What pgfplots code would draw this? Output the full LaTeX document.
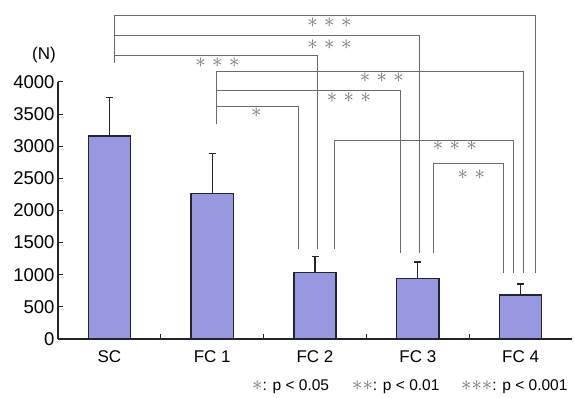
\documentclass[border=0pt]{standalone}
\usepackage{fontspec}
\setmainfont{Liberation Sans}
\usepackage{pgfplots}
\usepackage{pgfplotstable}
\pgfplotsset{compat=1.18}
\definecolor{barfill}{RGB}{152,152,224}
\definecolor{brk}{RGB}{105,105,118}
\definecolor{astc}{RGB}{110,110,122}
\definecolor{axc}{RGB}{35,35,50}

\pgfplotstableread{
x y e
0 3160 600
1 2265 625
2 1030 250
3 940 260
4 685 170
}\datatable

\newcommand{\aster}{{\fontsize{21}{21}\selectfont$\ast$}}
\newcommand{\laster}{{\fontsize{20}{20}\selectfont$\ast$}}
\newcommand{\sthree}{\textcolor{astc}{\aster\hspace{6.5pt}\aster\hspace{6.5pt}\aster}}
\newcommand{\stwo}{\textcolor{astc}{\aster\hspace{6.5pt}\aster}}
\newcommand{\sone}{\textcolor{astc}{\aster}}

\begin{document}
\begin{tikzpicture}[font=\fontsize{17}{20}\selectfont]
\useasboundingbox (-58pt,-59pt) rectangle (517pt,339pt);
\begin{axis}[
  at={(0,0)}, anchor=south west,
  scale only axis, width=514pt, height=257pt,
  xmin=-0.5, xmax=4.5, ymin=0, ymax=4000,
  axis x line=bottom, axis y line=left,
  axis line style={-, axc, line width=1.3pt},
  xtick={0.5,1.5,2.5,3.5}, xticklabels={},
  extra x ticks={0,1,2,3,4},
  extra x tick labels={SC,FC 1,FC 2,FC 3,FC 4},
  extra x tick style={major tick length=0pt, tick label style={yshift=-8pt}},
  ytick={0,500,...,4000},
  tick align=inside, major tick length=5pt,
  tick style={axc, line width=1pt},
  yticklabel style={font=\fontsize{18.5}{20}\selectfont, /pgf/number format/.cd, 1000 sep={}, assume math mode=true},
  ticklabel style={text=black},
  clip=false,
]
\addplot[ybar, bar width=0.41, fill=barfill, draw=axc, line width=1.3pt,
  error bars/.cd, y dir=plus, y explicit,
  error bar style={axc, line width=1.3pt},
  error mark options={rotate=90, mark size=3.5pt, axc, line width=1.3pt}]
  table[x=x, y=y, y error=e]{\datatable};

% brackets
\draw[brk, line width=0.65pt] (axis cs:0.05,4300) |- (axis cs:4.14,5032) -- (axis cs:4.14,1032);
\draw[brk, line width=0.65pt] (axis cs:0.05,4721) -| (axis cs:3.01,1338);
\draw[brk, line width=0.65pt] (axis cs:0.05,4420) -| (axis cs:2.02,1401);
\draw[brk, line width=0.65pt] (axis cs:1.04,3346) |- (axis cs:4.03,4160) -- (axis cs:4.03,1032);
\draw[brk, line width=0.65pt] (axis cs:1.04,3875) -| (axis cs:2.83,1338);
\draw[brk, line width=0.65pt] (axis cs:1.04,3626) -| (axis cs:1.84,1401);
\draw[brk, line width=0.65pt] (axis cs:2.19,1401) |- (axis cs:3.93,3097) -- (axis cs:3.93,1032);
\draw[brk, line width=0.65pt] (axis cs:3.15,1338) |- (axis cs:3.83,2735) -- (axis cs:3.83,1032);

\begin{scope}[every node/.style={inner sep=0pt, text height=10.5pt, text depth=0pt}]
\node at (axis cs:2.14,4930) {\sthree};
\node at (axis cs:2.14,4595) {\sthree};
\node at (axis cs:1.05,4305) {\sthree};
\node at (axis cs:2.65,4073) {\sthree};
\node at (axis cs:2.33,3755) {\sthree};
\node at (axis cs:1.43,3522) {\sone};
\node at (axis cs:3.36,3008) {\sthree};
\node at (axis cs:3.52,2568) {\stwo};
\end{scope}
\end{axis}
\node at (-14pt,284pt) {(N)};
\begin{scope}[font=\fontsize{15.5}{18}\selectfont]
\node[anchor=west, inner sep=0pt] at (194pt,-48pt) {\textcolor{astc}{\laster}: p < 0.05};
\node[anchor=west, inner sep=0pt] at (294pt,-48pt) {\textcolor{astc}{\laster\laster}: p < 0.01};
\node[anchor=west, inner sep=0pt] at (403pt,-48pt) {\textcolor{astc}{\laster\laster\laster}: p < 0.001};
\end{scope}
\end{tikzpicture}
\end{document}
